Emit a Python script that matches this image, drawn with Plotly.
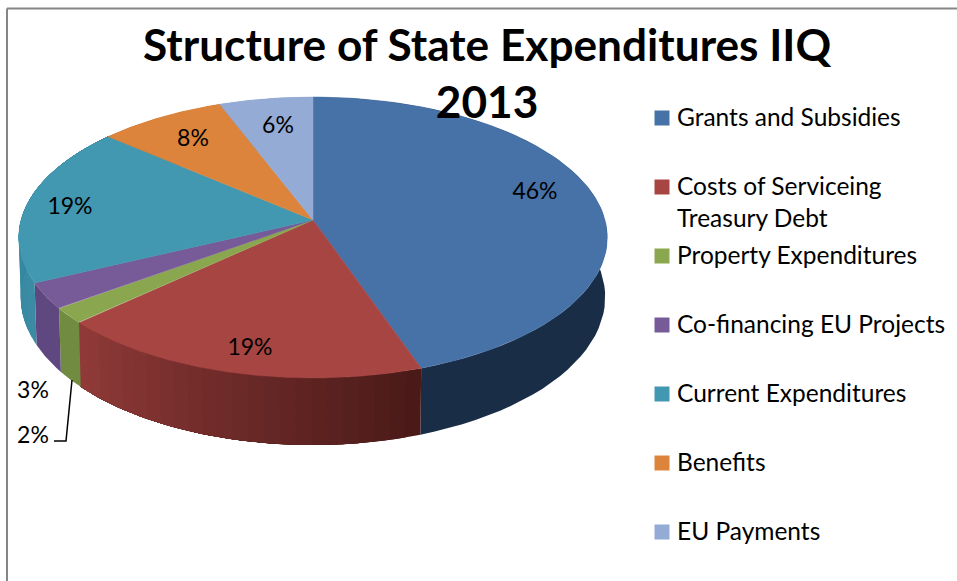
import numpy as np
import plotly.graph_objects as go

categories = ["Grants and Subsidies", "Costs of Serviceing<br>Treasury Debt", "Property Expenditures",
              "Co-financing EU Projects", "Current Expenditures", "Benefits", "EU Payments"]
values = [44.7, 18.4, 1.8, 3.0, 18.4, 7.9, 5.8]
pct_labels = ["46%", "19%", "2%", "3%", "19%", "8%", "6%"]
top_colors = ["#4672a8", "#a64542", "#8aa64e", "#775a98", "#4298b1", "#dc843b", "#94abd5"]
wall_left = ["#1a2d47", "#8f3a38", "#718c40", "#5f4780", "#2f8199", "#a86028", "#6f86ad"]
wall_right = ["#1a2d47", "#4a1a18", "#718c40", "#5f4780", "#3a8ba3", "#a86028", "#6f86ad"]
label_xy = [(535, 193), (250, 349), (33, 437), (33, 392), (70, 208), (193, 140), (278, 127)]
legend_y = [120, 205, 258, 327, 396, 465, 534]
swatch_y = [118, 187, 256, 325, 394, 463, 532]

CX, CY, A, B, P, D = 313, 220, 138.3, 292, 0.1245, 58.7


def rim(theta, drop=0.0, shrink=1.0):
    u, v = np.sin(theta), -np.cos(theta)
    s = 1 / (1 - P * v)
    return CX + B * u * s * shrink, CY + A * v * s + drop * s


def hex_mix(a, b, t):
    ca = [int(a[i:i + 2], 16) for i in (1, 3, 5)]
    cb = [int(b[i:i + 2], 16) for i in (1, 3, 5)]
    return "rgb(%d,%d,%d)" % tuple(round(x + (y - x) * t) for x, y in zip(ca, cb))


fig = go.Figure()
edges = np.concatenate([[0], np.cumsum(values)]) / sum(values) * 2 * np.pi

# outer walls: each band runs to the slice end, so later bands overpaint without seams
for i in range(len(values)):
    gradient = wall_left[i] != wall_right[i]
    n_bands = 24 if gradient else 1
    starts = np.linspace(edges[i], edges[i + 1], n_bands + 1)[:-1]
    for j, t0 in enumerate(starts):
        tt = np.linspace(t0, edges[i + 1], 60)
        x0, y0 = rim(tt)
        x1, y1 = rim(tt[::-1], D, 0.993)
        col = hex_mix(wall_right[i], wall_left[i], j / max(1, n_bands - 1))
        fig.add_trace(go.Scatter(x=np.r_[x0, x1], y=np.r_[y0, y1], mode="lines", fill="toself",
                                 fillcolor=col, line=dict(width=0),
                                 hoverinfo="skip", showlegend=False))

# top faces
for i, name in enumerate(categories):
    th = np.linspace(edges[i], edges[i + 1], 120)
    x, y = rim(th)
    fig.add_trace(go.Scatter(x=np.r_[CX, x, CX], y=np.r_[CY, y, CY], mode="lines", fill="toself",
                             fillcolor=top_colors[i], line=dict(color=top_colors[i], width=0.5),
                             name=name.replace("<br>", " "), showlegend=False))

# percentage labels
fig.add_trace(go.Scatter(x=[p[0] for p in label_xy], y=[p[1] for p in label_xy], mode="text",
                         text=pct_labels, textposition="middle center",
                         textfont=dict(family="Lato", size=23, color="#000000"),
                         hoverinfo="skip", showlegend=False))

# legend
fig.add_trace(go.Scatter(x=[662] * 7, y=swatch_y, mode="markers",
                         marker=dict(symbol="square", size=15, color=top_colors),
                         hoverinfo="skip", showlegend=False))
fig.add_trace(go.Scatter(x=[677] * 7, y=legend_y, mode="text", text=categories,
                         textposition="middle right",
                         textfont=dict(family="Lato", size=24.5, color="#000000"),
                         hoverinfo="skip", showlegend=False))

fig.update_layout(
    width=957, height=581, margin=dict(l=0, r=0, t=0, b=0),
    paper_bgcolor="#ffffff", plot_bgcolor="#ffffff",
    xaxis=dict(range=[0, 957], visible=False, fixedrange=True),
    yaxis=dict(range=[581, 0], visible=False, fixedrange=True),
    annotations=[dict(text="<b>Structure of State Expenditures IIQ<br>2013</b>", x=487, y=72,
                      xref="x", yref="y", showarrow=False, xanchor="center", yanchor="middle",
                      font=dict(family="Lato", size=44.2, color="#000000"))],
    shapes=[
        dict(type="path", path="M 72 380 L 66 441 L 54 441", line=dict(color="#000000", width=1.5)),
        dict(type="line", x0=7, x1=7, y0=8.5, y1=581, line=dict(color="#868686", width=2)),
        dict(type="line", x0=7, x1=957, y0=8.5, y1=8.5, line=dict(color="#868686", width=2)),
    ],
)
fig.write_html("out.html", config={"displayModeBar": False},
               post_script="document.body.style.margin='0';document.body.style.overflow='hidden';")
